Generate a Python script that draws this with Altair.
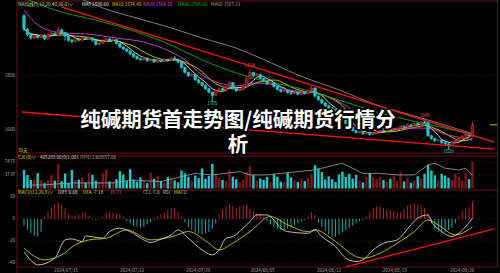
import altair as alt
import pandas as pd

FONT = "Noto Sans CJK SC"

# ---------------- data ----------------
opens = [2020,1970,1950,1938,1945,1940,1948,1935,1952,1955,
         1948,1968,1958,1945,1930,1925,1935,1930,1940,1935,
         1938,1930,1915,1920,1925,1935,1930,1932,1918,1905,
         1898,1890,1880,1870,1862,1858,1864,1855,1860,1850,
         1856,1852,1860,1855,1865,1860,1850,1830,1812,1800,
         1805,1785,1775,1765,1752,1740,1728,1745,1752,1748,
         1760,1775,1755,1745,1750,1760,1790,1812,1800,1805,
         1790,1780,1770,1775,1760,1750,1742,1748,1738,1735,
         1740,1732,1738,1735,1745,1755,1725,1712,1700,1690,
         1682,1675,1665,1655,1640,1625,1612,1600,1592,1595,
         1588,1592,1585,1590,1595,1600,1598,1605,1600,1603,
         1608,1615,1612,1620,1618,1625,1622,1630,1628,1580,
         1570,1562,1565,1555,1550,1545,1558,1562,1570,1578,
         1585,1578]
closes = [1970,1950,1938,1945,1940,1948,1935,1952,1955,1948,
          1968,1958,1945,1930,1925,1935,1930,1940,1935,1938,
          1930,1915,1920,1925,1935,1930,1932,1918,1905,1898,
          1890,1880,1870,1862,1858,1864,1855,1860,1850,1856,
          1852,1860,1855,1865,1860,1850,1830,1812,1800,1805,
          1785,1775,1765,1752,1740,1728,1745,1752,1748,1760,
          1775,1755,1745,1750,1760,1790,1812,1800,1805,1790,
          1780,1770,1775,1760,1750,1742,1748,1738,1735,1740,
          1732,1738,1735,1745,1755,1725,1712,1700,1690,1682,
          1675,1665,1655,1640,1625,1612,1600,1592,1595,1588,
          1592,1585,1590,1595,1600,1598,1605,1600,1603,1608,
          1615,1612,1620,1618,1625,1622,1630,1628,1580,1570,
          1562,1565,1555,1550,1545,1558,1562,1570,1578,1585,
          1580,1620]
highs = [2026,1975,1956,1950,1949,1952,1951,1955,1960,1958,
         1979,1972,1962,1948,1934,1940,1939,1944,1943,1942,
         1940,1932,1924,1929,1940,1938,1936,1934,1920,1908,
         1901,1893,1884,1874,1866,1868,1866,1864,1862,1860,
         1859,1864,1862,1870,1872,1863,1852,1833,1815,1810,
         1807,1788,1778,1768,1755,1742,1750,1757,1755,1764,
         1780,1777,1758,1754,1765,1795,1824,1815,1809,1807,
         1793,1783,1779,1777,1763,1753,1752,1750,1741,1744,
         1742,1742,1740,1749,1762,1757,1728,1715,1703,1694,
         1686,1678,1668,1658,1643,1628,1615,1604,1599,1598,
         1596,1595,1594,1599,1604,1603,1609,1607,1607,1612,
         1619,1618,1624,1623,1629,1628,1634,1640,1631,1583,
         1573,1569,1567,1558,1553,1562,1566,1574,1582,1589,
         1588,1631]
lows = [1965,1944,1932,1934,1935,1937,1930,1933,1948,1944,
        1946,1950,1928,1925,1918,1922,1926,1928,1930,1931,
        1926,1910,1912,1916,1922,1926,1927,1914,1900,1893,
        1885,1875,1866,1858,1853,1855,1851,1852,1846,1847,
        1848,1850,1851,1853,1857,1846,1826,1808,1795,1796,
        1780,1770,1760,1748,1735,1705,1725,1741,1743,1746,
        1757,1751,1741,1742,1747,1758,1787,1796,1797,1786,
        1776,1766,1767,1756,1746,1738,1739,1734,1730,1732,
        1728,1729,1731,1733,1743,1721,1708,1696,1686,1678,
        1671,1661,1650,1636,1620,1608,1596,1588,1588,1584,
        1585,1581,1582,1587,1592,1594,1595,1596,1597,1600,
        1605,1608,1609,1614,1615,1618,1619,1624,1576,1566,
        1557,1558,1550,1545,1529,1542,1554,1559,1566,1574,
        1576,1575]
volumes = [5200,3800,2400,2600,4300,2300,1500,2400,3700,2200,
           6800,2000,4200,1500,5200,2400,2500,3000,1600,4300,
           3800,2200,1800,4300,5200,2000,1700,2600,4800,3900,
           2100,5400,2500,1900,3100,2200,1500,4400,2700,3500,
           2000,1600,3200,2800,2300,1700,5000,4200,3300,2300,
           3600,2900,5600,2700,3500,6900,4100,3000,2400,2100,
           5100,3300,2600,1700,2500,4600,6200,3700,2200,2800,
           2400,3200,1700,4000,3300,1900,1700,4300,3100,2300,
           1800,2600,2100,3000,4000,6500,5600,4600,2500,3400,
           2600,1800,3900,4700,3200,4100,2800,3800,2200,1700,
           3300,4200,3100,2600,3200,2400,1900,2700,3600,2200,
           4500,2000,3000,1600,2300,3400,2800,4100,6600,5000,
           3700,2300,4100,3600,3000,2500,4200,3300,2200,4400,
           2600,7400]
macd_hist = [-6,-10,-13,-15,-16,-12,2,6,10,13,
             15,13,10,4,3,3,4,5,6,3,
             1,-1,0.5,2,5,6,6,5,4,2,
             -2,-4,-6,-7,-8,-7,-5,-3,-1,2,
             4,6,8,10,9,6,2,-3,-7,-10,
             -12,-13,-14,-13,-12,-9,-4,4,9,12,
             14,12,10,11,12,13,9,7,5,4,
             2,-2,-5,-7,-9,-10,-10,-9,-8,-6,
             -4,-2,-1,2,6,4,-3,-7,-11,-14,
             -16,-16,-14,-12,-10,-8,-6,-4,-2,-1,
             2,6,10,11,11,10,9,8,7,6,
             6,9,12,13,14,13,12,10,5,-4,
             -9,-12,-13,-12,-10,-8,-4,3,7,9,
             11,15.71]

# moving averages that depend on earlier history
ma20_i = [0,3,7,12,18,27,35,43,47,52,57,62,67,72,77,83,89,95,100,106,112,118,123,128,131]
ma20_v = [2040,1997,1967,1956,1953,1938,1923,1887,1858,1803,1773,1762,1773,1769,1748,1740,1722,1682,1630,1605,1608,1608,1586,1572,1564.18]
ma40_i = [0,9,23,33,43,52,62,69,80,92,103,115,123,131]
ma40_v = [2085,2041,1997,1960,1912,1858,1810,1784,1755,1711,1667,1630,1608,1584.82]
ma60_i = [0,16,23,33,43,52,62,69,80,92,103,115,123,131]
ma60_v = [2190,2085,2048,2011,1975,1938,1901,1865,1803,1748,1693,1649,1619,1587.23]

oi_i = [0,5,14,26,31,40,46,50,55,63,66,71,75,85,93,95,99,104,109,114,118,120,123,127,129,131]
oi_v = [1318000,1318000,1329000,1329000,1344000,1336000,1362000,1379000,1371000,1388000,
        1371000,1371000,1379000,1397000,1432000,1414000,1379000,1379000,1371000,1371000,
        1423000,1432000,1406000,1397000,1406000,1368857]

diff_i = [0,3,4,9,12,14,17,18,20,23,25,28,31,35,37,40,43,45,48,52,55,57,59,61,64,66,68,71,73,75,
          77,83,85,87,91,94,97,99,102,105,109,113,115,118,119,122,125,127,129,131]
diff_v = [-29.4,-40,-41.4,-35.4,-18.9,-18,-20.4,-15.3,-16.2,-17.3,-11.4,-8.4,-11.4,-18.9,-21.3,
          -18.3,-14.4,-9.9,-17.4,-27.9,-32.4,-27.9,-17.4,-15.9,-8.4,-2.4,3.6,3.6,-0.9,-8.4,
          -11.4,-12.9,-9.9,-15.9,-24.9,-35.4,-38.4,-36.9,-27.9,-21.9,-18.9,-5.4,0.6,3.6,-2.4,
          -11.4,-15.9,-12.9,-6.9,0.68]
dea_i = [0,6,11,15,19,24,30,37,44,48,54,57,61,66,72,77,83,85,91,97,99,104,109,114,118,121,126,131]
dea_v = [-26.4,-36.9,-32.4,-23.4,-18.9,-17.4,-9.9,-18.9,-15.3,-11.4,-21.9,-27.9,-21.9,-11.4,
         2.1,-5.4,-11.4,-9.9,-20.4,-33.9,-35.4,-30.9,-21.9,-11.4,-0.9,-5.4,-14.4,-7.18]

# trend lines (bar index, value)
upper_line_i = [10.9, 137.4]
upper_line_v = [2052, 1557]
lower_line_i = [-0.6, 137.4]
lower_line_v = [1667, 1531]
macd_line_i = [94, 137.4]
macd_line_v = [-43.2, -9]

extreme_i = [66, 117, 55, 124]
extreme_v = [1824, 1640, 1705, 1529]
extreme_kind = ["high", "high", "low", "low"]

price_ticks = [1600, 1800]
vol_ticks = [3737, 7475]
macd_ticks = [-40, -20, 0, 20]
date_pos = [12.3, 31.6, 50.9, 69.7, 89.1, 108.3, 128]
date_labels = ["2024/07/15", "2024/07/22", "2024/07/29", "2024/08/05",
               "2024/08/12", "2024/08/19", "2024/08/26"]

title_line1 = "纯碱期货首走势图/纯碱期货行情分"
title_line2 = "析"

# ---------------- styling ----------------
UP = "#c03030"
UPFILL = "#7a1818"
DN = "#1cc8c8"
FRAME = "#6e1010"
GRID = "#6e1414"
TXT = "#a8a8a8"
LEG = 4.6

PX = alt.Scale(domain=[0, 131], range=[19, 477.5], nice=False, zero=False)
PY = alt.Scale(domain=[1600, 1800], range=[130.3, 75.7], nice=False, zero=False)
VY = alt.Scale(domain=[0, 7475], range=[188.5, 161.7], nice=False, zero=False)
OY = alt.Scale(domain=[1300000, 1440000], range=[188.5, 161.7], nice=False, zero=False)
MY = alt.Scale(domain=[-40, 20], range=[263.3, 196.7], nice=False, zero=False)

n = len(closes)
bars = pd.DataFrame({"i": list(range(n)), "o": opens, "c": closes, "h": highs,
                     "l": lows, "vol": volumes, "hist": macd_hist})
ONE = pd.DataFrame({"k": [0]})

def X():
    return alt.X("i:Q", scale=PX, axis=None)

up_cond = "datum.c >= datum.o"

def hline(y, x1=17, x2=497.5, color=FRAME, w=1):
    return alt.Chart(ONE).mark_rule(color=color, strokeWidth=w).encode(
        x=alt.value(x1), x2=alt.value(x2), y=alt.value(y))

def vline(x, y1, y2, color=FRAME, w=1):
    return alt.Chart(ONE).mark_rule(color=color, strokeWidth=w).encode(
        x=alt.value(x), y=alt.value(y1), y2=alt.value(y2))

def label(txt, x, y, color, size=LEG, align="left", weight="normal"):
    return alt.Chart(ONE).mark_text(text=txt, align=align, baseline="middle",
                                    fontSize=size, font=FONT, color=color,
                                    fontWeight=weight).encode(
        x=alt.value(x), y=alt.value(y))

layers = []

# frame
layers += [hline(1), hline(153), hline(156), hline(190), hline(267),
           vline(17, 0, 273), vline(497.5, 0, 267)]

# grids + axis labels
def grid_and_labels(ticks, scale):
    df = pd.DataFrame({"v": ticks, "t": [str(t) for t in ticks]})
    g = alt.Chart(df).mark_rule(color=GRID, strokeDash=[1, 2], strokeWidth=0.8).encode(
        x=alt.value(17), x2=alt.value(497.5), y=alt.Y("v:Q", scale=scale, axis=None))
    t = alt.Chart(df).mark_text(align="right", baseline="middle", fontSize=LEG, font=FONT,
                                color=TXT).encode(
        x=alt.value(15), y=alt.Y("v:Q", scale=scale, axis=None), text="t:N")
    return [g, t]

layers += grid_and_labels(price_ticks, PY)
layers += grid_and_labels(vol_ticks, VY)
layers += grid_and_labels(macd_ticks, MY)

# dates
dates_df = pd.DataFrame({"i": date_pos, "t": date_labels})
layers.append(alt.Chart(dates_df).mark_text(fontSize=LEG, font=FONT, color=TXT,
                                            baseline="middle").encode(
    x=X(), y=alt.value(271), text="t:N"))

# moving averages
base = alt.Chart(bars)
layers.append(base.transform_window(ma="mean(c)", frame=[-9, 0], sort=[alt.SortField("i")])
              .mark_line(color="#d8d800", strokeWidth=0.9)
              .encode(x=X(), y=alt.Y("ma:Q", scale=PY, axis=None)))
layers.append(base.transform_window(ma="mean(c)", frame=[-4, 0], sort=[alt.SortField("i")])
              .mark_line(color="#e8e8e8", strokeWidth=0.9)
              .encode(x=X(), y=alt.Y("ma:Q", scale=PY, axis=None)))
for mi, mv, colr in [(ma20_i, ma20_v, "#e040e0"), (ma40_i, ma40_v, "#00b000"),
                     (ma60_i, ma60_v, "#8a8a8a")]:
    layers.append(alt.Chart(pd.DataFrame({"i": mi, "v": mv}))
                  .mark_line(color=colr, strokeWidth=0.9, interpolate="monotone")
                  .encode(x=X(), y=alt.Y("v:Q", scale=PY, axis=None)))

# candles
col = alt.condition(up_cond, alt.value(UP), alt.value(DN))
fill = alt.condition(up_cond, alt.value(UPFILL), alt.value(DN))
layers.append(base.mark_rule(strokeWidth=1).encode(
    x=X(), y=alt.Y("h:Q", scale=PY, axis=None), y2="l:Q", color=col))
layers.append(base.mark_bar(size=2.4, strokeWidth=0.7).encode(
    x=X(), y=alt.Y("o:Q", scale=PY, axis=None), y2="c:Q", fill=fill, stroke=col))

# extreme labels
ext = pd.DataFrame({"i": extreme_i, "v": extreme_v, "t": [str(v) for v in extreme_v],
                    "k": extreme_kind})
layers.append(alt.Chart(ext).transform_filter("datum.k == 'high'").mark_text(
    fontSize=LEG, font=FONT, color="#e05050", baseline="bottom", dy=-1).encode(
    x=X(), y=alt.Y("v:Q", scale=PY, axis=None), text="t:N"))
layers.append(alt.Chart(ext).transform_filter("datum.k == 'low'").mark_text(
    fontSize=LEG, font=FONT, color="#40d0d0", baseline="top", dy=-0.5).encode(
    x=X(), y=alt.Y("v:Q", scale=PY, axis=None), text="t:N"))

# volume
layers.append(base.mark_bar(size=2.4).encode(
    x=X(), y=alt.Y("vol:Q", scale=VY, axis=None), y2=alt.datum(0), fill=fill))
layers.append(alt.Chart(pd.DataFrame({"i": oi_i, "v": oi_v})).mark_line(
    color="#a0a0a0", strokeWidth=0.8).encode(x=X(), y=alt.Y("v:Q", scale=OY, axis=None)))

# MACD
layers.append(base.mark_rule(strokeWidth=1).encode(
    x=X(), y=alt.Y("hist:Q", scale=MY, axis=None), y2=alt.datum(0),
    color=alt.condition("datum.hist >= 0", alt.value("#b02828"), alt.value("#1aa8a8"))))
layers.append(alt.Chart(pd.DataFrame({"i": dea_i, "v": dea_v})).mark_line(
    color="#c8c800", strokeWidth=0.9, interpolate="monotone").encode(
    x=X(), y=alt.Y("v:Q", scale=MY, axis=None)))
layers.append(alt.Chart(pd.DataFrame({"i": diff_i, "v": diff_v})).mark_line(
    color="#d0d0d0", strokeWidth=0.9, interpolate="monotone").encode(
    x=X(), y=alt.Y("v:Q", scale=MY, axis=None)))

# trend lines
for li, lv, sc in [(upper_line_i, upper_line_v, PY), (lower_line_i, lower_line_v, PY),
                   (macd_line_i, macd_line_v, MY)]:
    layers.append(alt.Chart(pd.DataFrame({"i": li, "v": lv})).mark_line(
        color="#ff1010", strokeWidth=1.3).encode(x=X(), y=alt.Y("v:Q", scale=sc, axis=None)))

# last price marker
layers.append(alt.Chart(pd.DataFrame({"v": [closes[-1]]})).mark_rule(
    color="#c8c800", strokeWidth=1).encode(
    x=alt.value(490), x2=alt.value(497), y=alt.Y("v:Q", scale=PY, axis=None)))

# legends
layers += [
    label("MA均线(5,10,20,40,60,0)∨", 18, 4.5, "#d8d890"),
    label("MA5 1590.60", 82, 4.5, "#e8e8e8"),
    label("MA10 1574.40", 112, 4.5, "#d8d800"),
    label("MA20 1564.18", 143, 4.5, "#e040e0"),
    label("MA40 1584.82", 178, 4.5, "#00c000"),
    label("MA60 1587.23", 211, 4.5, "#a0a0a0"),
    label("35天", 18, 150.5, "#d8d800"),
    label("CJL(0)∨", 18, 158, "#d8d800"),
    label("405289.00(0)1.001", 40, 158, "#d0d0d0"),
    label("OPID 1368857.00", 80, 158, "#a0a0a0"),
    label("MACD(12,26,9)∨", 18, 193.3, "#d8d800"),
    label("DIFF 0.68", 58, 193.3, "#e0e0e0"),
    label("DEA -7.18", 83, 193.3, "#d8d800"),
    label("15.71", 110, 193.3, "#e040e0"),
    label("CCL", 143, 193.3, "#c0c0c0"),
    label("CJL", 153, 193.3, "#c0c0c0"),
    label("RSI", 163, 193.3, "#c0c0c0"),
    label("MACD", 174, 193.3, "#d8d800"),
]

# title overlay: dark outline layer under a white fill layer
for txt, y in [(title_line1, 121), (title_line2, 146)]:
    layers.append(alt.Chart(ONE).mark_text(
        text=txt, fontSize=20.5, fontWeight="bold", font=FONT, fill="black",
        stroke="black", strokeWidth=3.5, strokeJoin="round", baseline="middle",
        align="center").encode(x=alt.value(238), y=alt.value(y)))
    layers.append(alt.Chart(ONE).mark_text(
        text=txt, fontSize=20.5, fontWeight="bold", font=FONT, fill="white",
        baseline="middle", align="center").encode(x=alt.value(238), y=alt.value(y)))

chart = alt.layer(*layers).resolve_scale(y="independent").properties(
    width=500, height=273, padding=0, background="black",
    autosize=alt.AutoSizeParams(type="none")
).configure_view(strokeWidth=0, fill="black")

chart.save("out.html", embed_options={"renderer": "svg", "actions": False})
